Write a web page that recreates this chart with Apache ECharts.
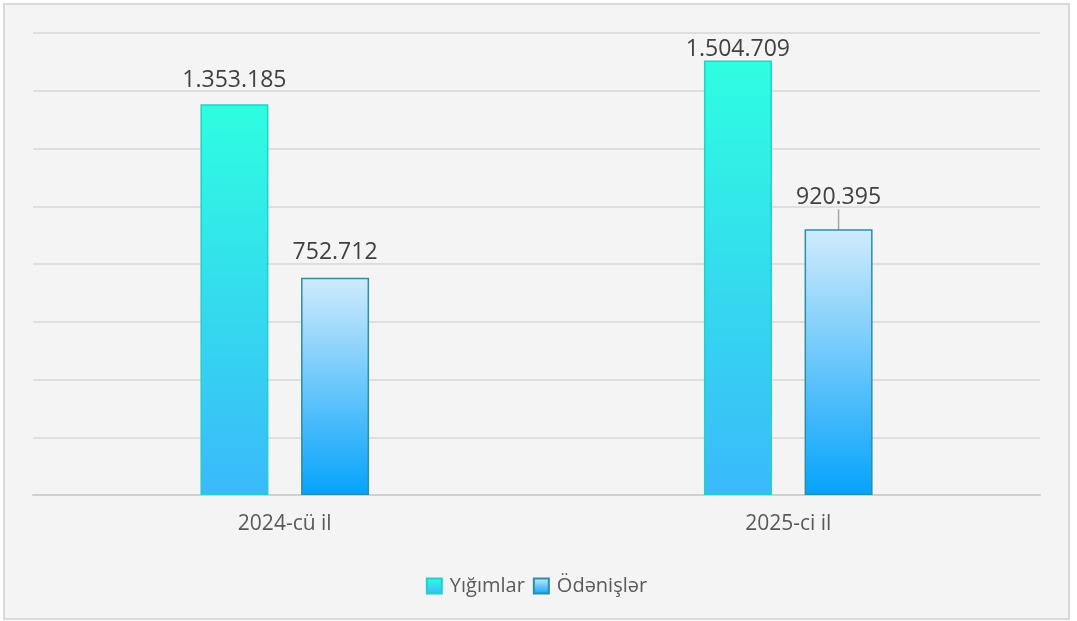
<!DOCTYPE html>
<html>
<head>
<meta charset="utf-8">
<script src="https://cdn.jsdelivr.net/npm/echarts@6/dist/echarts.min.js"></script>
<style>
  html, body { margin: 0; padding: 0; background: #fff; }
  #chart { width: 1067px; height: 617px; margin: 3px 0 0 3px; border: 2px solid #d9d9d9; box-sizing: border-box; background: #f4f4f4; }
</style>
</head>
<body>
<div id="chart"></div>
<script>
const categories = ['2024-cü il', '2025-ci il'];
const seriesNames = ['Yığımlar', 'Ödənişlər'];
const collections = [1353185, 1504709];
const payments = [752712, 920395];

const fmt = v => String(v).replace(/\B(?=(\d{3})+(?!\d))/g, '.');

const cyanFill = new echarts.graphic.LinearGradient(0, 0, 0, 1, [
  { offset: 0, color: '#2efee0' },
  { offset: 1, color: '#3ab9fb' }
]);
const blueFill = new echarts.graphic.LinearGradient(0, 0, 0, 1, [
  { offset: 0, color: '#d0ebfc' },
  { offset: 1, color: '#05a3fb' }
]);

const chart = echarts.init(document.getElementById('chart'));
chart.setOption({
  backgroundColor: '#f4f4f4',
  textStyle: { fontFamily: 'Open Sans' },
  grid: { left: 28, right: 28, top: 28, bottom: 123 },
  legend: {
    bottom: 17,
    left: 'center',
    icon: 'rect',
    itemWidth: 15,
    itemHeight: 15,
    itemGap: 8,
    textStyle: { fontSize: 20, color: '#595959', padding: [0, 0, 0, 3] },
    data: seriesNames
  },
  xAxis: {
    type: 'category',
    data: categories,
    axisTick: { show: false },
    axisLine: { lineStyle: { color: '#d0d0d0', width: 2 } },
    axisLabel: { fontSize: 21, color: '#595959', margin: 19 }
  },
  yAxis: {
    type: 'value',
    min: 0,
    max: 1600000,
    interval: 200000,
    axisLabel: { show: false },
    axisLine: { show: false },
    axisTick: { show: false },
    splitLine: { lineStyle: { color: '#dedede', width: 2 } }
  },
  series: [
    {
      name: seriesNames[0],
      type: 'bar',
      barWidth: 68,
      barGap: '48%',
      itemStyle: { color: cyanFill, borderColor: '#1fd3c9', borderWidth: 1.5 },
      label: { show: true, position: 'top', fontSize: 23, color: '#404040', formatter: p => fmt(p.value) },
      data: [
        { value: collections[0], label: { distance: 12 } },
        { value: collections[1], label: { distance: 0 } }
      ]
    },
    {
      name: seriesNames[1],
      type: 'bar',
      barWidth: 68,
      itemStyle: { color: blueFill, borderColor: '#2a8fa6', borderWidth: 1.5 },
      label: { show: true, position: 'top', fontSize: 23, color: '#404040', formatter: p => fmt(p.value) },
      labelLayout: p => (p.dataIndex === 1 ? { dy: -20 } : null),
      data: [
        { value: payments[0], label: { distance: 14 }, labelLine: { show: false } },
        { value: payments[1], label: { distance: 0 }, labelLine: { show: true, lineStyle: { color: '#a6a6a6', width: 1.5 } } }
      ]
    }
  ]
});
window.addEventListener('resize', () => chart.resize());
</script>
</body>
</html>
